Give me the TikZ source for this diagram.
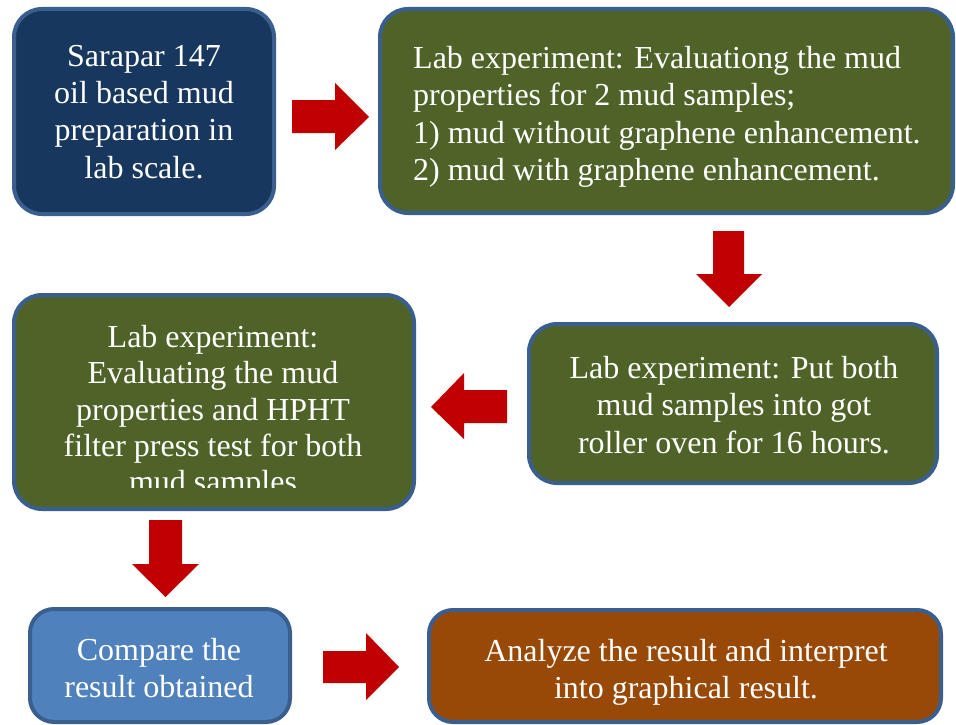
\documentclass[tikz,border=0pt]{standalone}
\usepackage{fontspec}
\setmainfont{Liberation Serif}
\definecolor{navy}{HTML}{17375E}
\definecolor{olive}{HTML}{4F6228}
\definecolor{edge}{HTML}{3A5F8E}
\definecolor{lightblue}{HTML}{4F81BD}
\definecolor{brown}{HTML}{984807}
\definecolor{arrowred}{HTML}{C00000}
\begin{document}
\begin{tikzpicture}[x=1pt,y=-1pt,
  box/.style={draw=edge, line width=4pt, rounded corners=28pt, inner sep=0pt},
  txt/.style={text=white, inner sep=0pt, font=\fontsize{32}{37.3}\selectfont, execute at begin node=\strut},
  blockarrow/.style={fill=arrowred}]
\useasboundingbox (0,0) rectangle (956,725);
\clip (0,0) rectangle (956,725);
% boxes
\node[box, fill=navy, minimum width=260pt, minimum height=205pt] (b1) at (144,111.5) {};
\node[box, fill=olive, minimum width=573pt, minimum height=204pt] (b2) at (666.5,111) {};
\node[box, fill=olive, minimum width=408pt, minimum height=159pt] (b3) at (733,403.5) {};
\node[box, fill=olive, minimum width=400pt, minimum height=214pt] (b4) at (214,402) {};
\node[box, fill=lightblue, minimum width=260pt, minimum height=113pt, rounded corners=24pt] (b5) at (160,665.5) {};
\node[box, fill=brown, minimum width=512pt, minimum height=112pt, rounded corners=24pt] (b6) at (685,666) {};
% texts
\node[txt, anchor=north, align=center] (t1) at (144,45) {Sarapar 147\\oil based mud\\preparation in\\lab scale.};
\node[txt, anchor=north west, align=left] (t2) at (413,46) {Lab experiment: Evaluationg the mud\\properties for 2 mud samples;\\1) mud without graphene enhancement.\\2) mud with graphene enhancement.};
\node[txt, anchor=north, align=center] (t3) at (734,356) {Lab experiment: Put both\\mud samples into got\\roller oven for 16 hours.};
\begin{scope}
\clip (14,295) rectangle (414,487);
\node[txt, anchor=north, align=center, font=\fontsize{32}{36.3}\selectfont] (t4) at (213,325) {Lab experiment:\\Evaluating the mud\\properties and HPHT\\filter press test for both\\mud samples};
\end{scope}
\node[txt, anchor=north, align=center] (t5) at (159,638) {Compare the\\result obtained};
\node[txt, anchor=north, align=center] (t6) at (686,639) {Analyze the result and interpret\\into graphical result.};
% block arrows
\fill[blockarrow] (292,100) -- (335,100) -- (335,83) -- (369,117) -- (335,150) -- (335,133) -- (292,133) -- cycle;
\fill[blockarrow] (713,231) -- (744,231) -- (744,274) -- (762,274) -- (729,307) -- (696,274) -- (713,274) -- cycle;
\fill[blockarrow] (507,390) -- (464,390) -- (464,373) -- (431,407) -- (464,439) -- (464,423) -- (507,423) -- cycle;
\fill[blockarrow] (149,520) -- (182,520) -- (182,564) -- (199,564) -- (165.5,597) -- (132,564) -- (149,564) -- cycle;
\fill[blockarrow] (323,651) -- (366,651) -- (366,633) -- (399,667) -- (366,700) -- (366,683) -- (323,683) -- cycle;
\end{tikzpicture}
\end{document}
